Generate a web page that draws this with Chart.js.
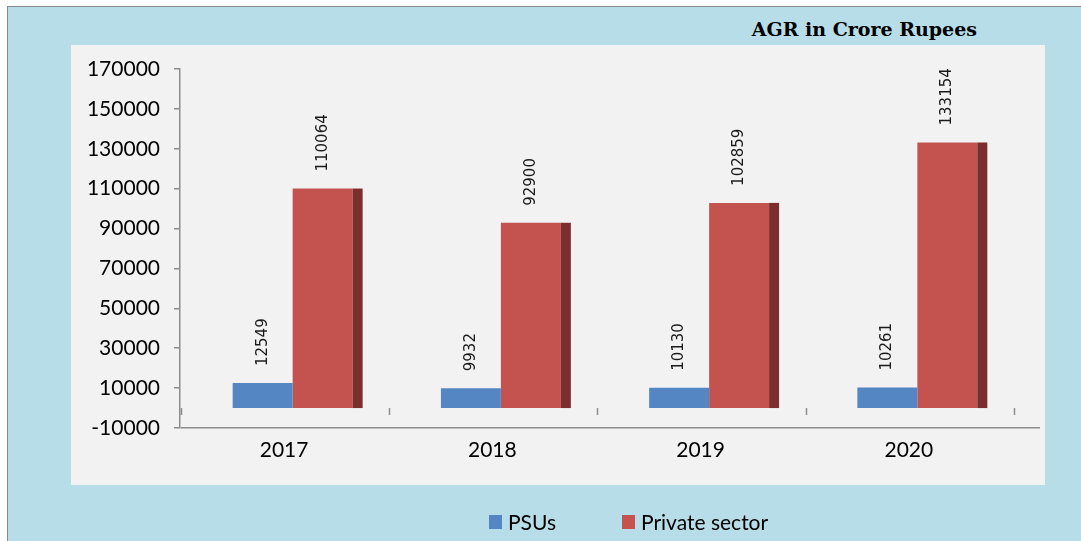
<!DOCTYPE html>
<html>
<head>
<meta charset="utf-8">
<script src="https://cdn.jsdelivr.net/npm/chart.js@4/dist/chart.umd.min.js"></script>
<style>
  html, body { margin: 0; padding: 0; background: #ffffff; overflow: hidden; }
  #page { position: relative; width: 1081px; height: 541px; }
  #frame { position: absolute; left: 7px; top: 6px; right: 0; bottom: 0;
           background: #b7dde8; border-top: 1px solid #8a8a8a; border-left: 1px solid #8a8a8a; }
  #panel { position: absolute; left: 71px; top: 45px; width: 974px; height: 440px; background: #f2f2f2; }
  #title { position: absolute; right: 104px; top: 19px; font: bold 19px "DejaVu Serif", serif;
           line-height: 21px; color: #000; white-space: nowrap; }
  #wrap { position: absolute; left: 0; top: 0; width: 1081px; height: 541px; }
  .legend-item { position: absolute; top: 510px; display: flex; align-items: center;
                 font: 21px Lato, sans-serif; line-height: 24px; color: #000; white-space: nowrap; }
  .legend-item span.box { display: inline-block; width: 13px; height: 14px; margin-right: 6px; }
</style>
</head>
<body>
<div id="page">
  <div id="frame"></div>
  <div id="panel"></div>
  <div id="title">AGR in Crore Rupees</div>
  <div id="wrap"><canvas id="chart"></canvas></div>
  <div id="legend"></div>
</div>
<script>
// AGR (crore rupees) by year
const categories = ['2017', '2018', '2019', '2020'];
const psuValues = [12549, 9932, 10130, 10261];
const privateValues = [110064, 92900, 102859, 133154];
const seriesNames = ['PSUs', 'Private sector'];
const yTickValues = [-10000, 10000, 30000, 50000, 70000, 90000, 110000, 130000, 150000, 170000];

const AXIS_GREY = '#8c8c8c';
const X_MIN = -0.5, X_MAX = 3.63;   // extra room on the right for the floor depth
const BAR_SHIFT = 0.041;            // bars sit a little right of the category centre (3-D look)
const DEPTH_PX = 10;                // width of the shaded side face

const toPoints = vals => vals.map((v, i) => ({ x: i, y: v }));
const indexTicks = scale => { scale.ticks = categories.map((_, i) => ({ value: i })); };

// Shaded side faces, rotated value labels and category boundary marks
const decorations = {
  id: 'decorations',
  afterDatasetsDraw(chart) {
    const ctx = chart.ctx;
    const y = chart.scales.y;
    const x = chart.scales.x;
    const zeroY = y.getPixelForValue(0);

    // boundary tick marks hanging from the zero line
    ctx.save();
    ctx.strokeStyle = AXIS_GREY;
    ctx.lineWidth = 1.5;
    for (let i = 0; i <= categories.length; i++) {
      const px = Math.round(x.getPixelForValue(i - 0.5)) + 1.5;
      ctx.beginPath();
      ctx.moveTo(px, zeroY);
      ctx.lineTo(px, zeroY + 7);
      ctx.stroke();
    }
    ctx.restore();

    chart.data.datasets.forEach((ds, di) => {
      const meta = chart.getDatasetMeta(di);
      meta.data.forEach((bar, i) => {
        if (ds.depthColor) {
          ctx.save();
          ctx.fillStyle = ds.depthColor;
          const right = bar.x + bar.width / 2;
          ctx.fillRect(right, bar.y, DEPTH_PX, bar.base - bar.y);
          ctx.restore();
        }
        ctx.save();
        ctx.translate(bar.x, bar.y - 17);
        ctx.rotate(-Math.PI / 2);
        ctx.font = '15px "DejaVu Sans", sans-serif';
        ctx.fillStyle = '#1a1a1a';
        ctx.textAlign = 'left';
        ctx.textBaseline = 'middle';
        ctx.fillText(String(ds.data[i].y), 0, 0);
        ctx.restore();
      });
    });
  }
};

const chart = new Chart(document.getElementById('chart'), {
  type: 'bar',
  data: {
    datasets: [
      { label: seriesNames[0], data: toPoints(psuValues), backgroundColor: '#5486c4',
        xAxisID: 'xb', borderWidth: 0 },
      { label: seriesNames[1], data: toPoints(privateValues), backgroundColor: '#c4524f',
        depthColor: '#7b2e2e', xAxisID: 'xb', borderWidth: 0 }
    ]
  },
  options: {
    responsive: true,
    maintainAspectRatio: false,
    animation: false,
    layout: { padding: { top: 69, right: 41, bottom: 53, left: 0 } },
    categoryPercentage: 0.576,
    barPercentage: 1,
    plugins: {
      legend: { display: false },
      title: { display: false },
      tooltip: { enabled: false }
    },
    scales: {
      x: {
        type: 'linear', min: X_MIN, max: X_MAX, offset: false,
        afterBuildTicks: indexTicks,
        afterFit: s => { s.height = 60; },
        grid: { display: false },
        border: { display: false },
        ticks: {
          callback: v => categories[v],
          font: { family: 'Lato', size: 21 },
          color: '#000', padding: 2, maxRotation: 0, autoSkip: false
        }
      },
      xb: {
        type: 'linear', axis: 'x', display: false, offset: false,
        min: X_MIN - BAR_SHIFT, max: X_MAX - BAR_SHIFT,
        afterBuildTicks: indexTicks
      },
      y: {
        min: -10000, max: 170000,
        afterBuildTicks: s => { s.ticks = yTickValues.map(v => ({ value: v })); },
        afterFit: s => { s.width = 180; },
        grid: {
          color: c => (c.tick && (c.tick.value === 0 || c.tick.value === -10000)) ? AXIS_GREY : 'rgba(0,0,0,0)',
          lineWidth: 1.5,
          tickColor: AXIS_GREY,
          tickLength: 6,
          drawTicks: true
        },
        border: { display: true, color: AXIS_GREY, width: 1.5 },
        ticks: {
          font: { family: 'Lato', size: 21 },
          color: '#000', padding: 14,
          callback: v => String(v)
        }
      }
    }
  },
  plugins: [decorations]
});

// Legend built from the chart's datasets
const legend = document.getElementById('legend');
const legendLeft = [489, 622];
chart.data.datasets.forEach((ds, i) => {
  const item = document.createElement('div');
  item.className = 'legend-item';
  item.style.left = legendLeft[i] + 'px';
  const box = document.createElement('span');
  box.className = 'box';
  box.style.background = ds.backgroundColor;
  item.appendChild(box);
  item.appendChild(document.createTextNode(ds.label));
  legend.appendChild(item);
});
</script>
</body>
</html>
